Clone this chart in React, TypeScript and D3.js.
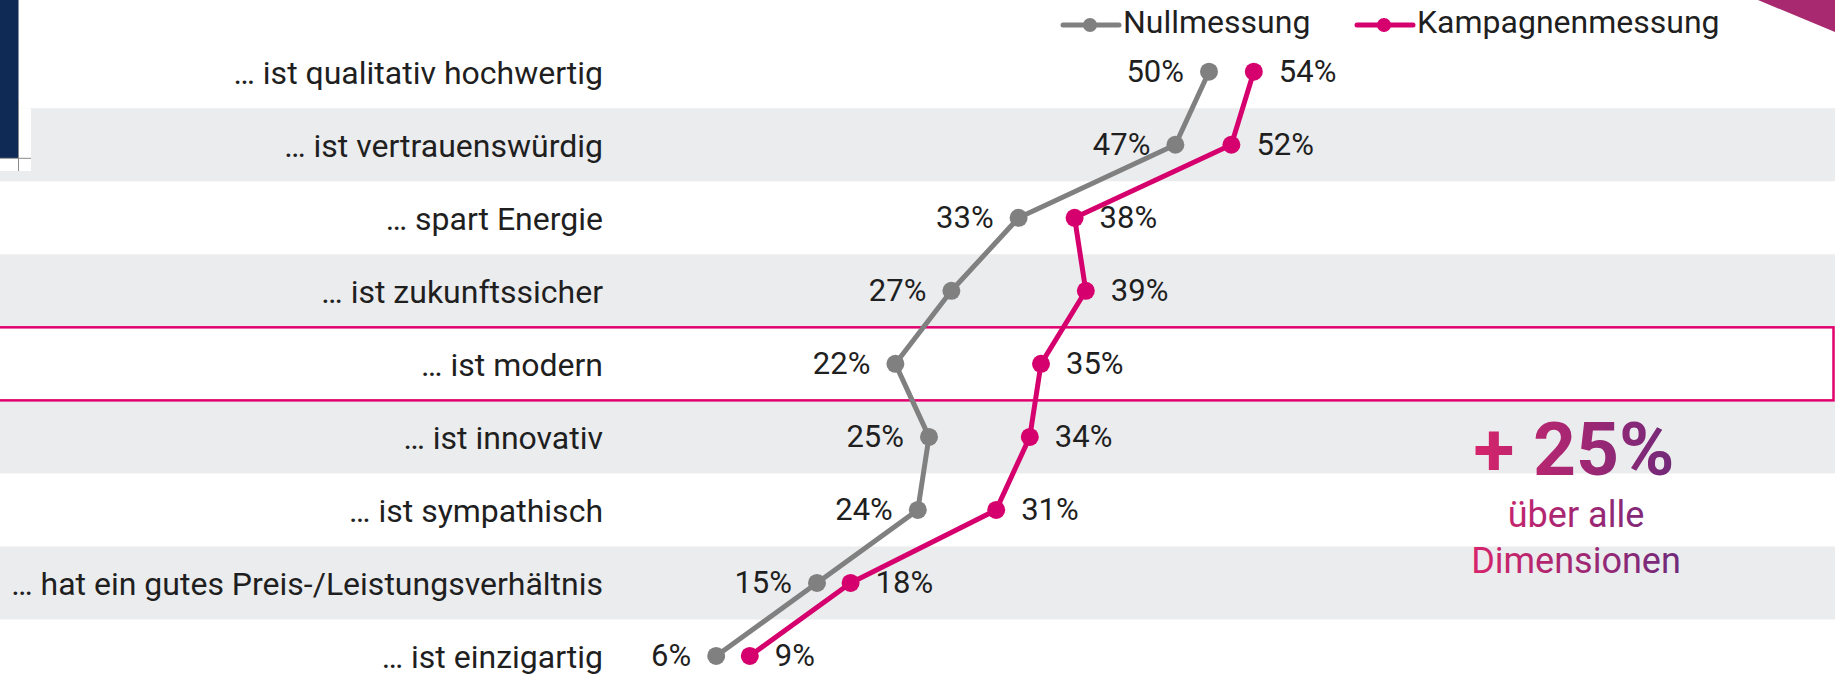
import React from "react";
import * as d3 from "d3";

// categories, top to bottom
const categories = [
  "… ist qualitativ hochwertig",
  "… ist vertrauenswürdig",
  "… spart Energie",
  "… ist zukunftssicher",
  "… ist modern",
  "… ist innovativ",
  "… ist sympathisch",
  "… hat ein gutes Preis-/Leistungsverhältnis",
  "… ist einzigartig",
];

const nullmessung = [50, 47, 33, 27, 22, 25, 24, 15, 6];
const kampagnenmessung = [54, 52, 38, 39, 35, 34, 31, 18, 9];

const seriesNames = ["Nullmessung", "Kampagnenmessung"];
const seriesColors = ["#808080", "#d5006d"];

const highlighted = "… ist modern";
const upliftText = "+ 25%";
const upliftSub = ["über alle", "Dimensionen"];

const W = 1835;
const H = 676;

const App = () => {
  const x = d3.scaleLinear().domain([0, 100]).range([649, 1769]);
  const y = d3.scaleBand().domain(categories).range([35.2, 692.5]).padding(0);
  const bw = y.bandwidth();
  const cy = (c: string) => (y(c) as number) + bw / 2;

  const line = d3
    .line<number>()
    .x((d) => x(d))
    .y((_, i) => cy(categories[i]));

  const series = [nullmessung, kampagnenmessung];
  const font = "Roboto, 'Noto Sans', sans-serif";

  return (
    <svg
      width={W}
      height={H}
      style={{ position: "absolute", left: 0, top: 0, background: "#fff" }}
      fontFamily={font}
    >
      <defs>
        <linearGradient id="uplift" gradientUnits="userSpaceOnUse" x1={1470} y1={0} x2={1690} y2={0}>
          <stop offset="0" stopColor="#d8246b" />
          <stop offset="1" stopColor="#6a2a7b" />
        </linearGradient>
      </defs>

      {/* alternating stripes */}
      {categories.map((c, i) =>
        i % 2 === 1 ? (
          <rect key={c} x={0} y={y(c)} width={W} height={bw} fill="#ebecee" />
        ) : null
      )}

      {/* highlighted row */}
      <rect
        x={-5}
        y={y(highlighted)}
        width={W + 3.5}
        height={bw}
        fill="#fff"
        stroke="#e0006e"
        strokeWidth={2.5}
      />

      {/* slide leftovers on the left edge */}
      <rect x={0} y={108.3} width={31} height={62.7} fill="#fff" />
      <rect x={0} y={0} width={18.5} height={158} fill="#0f2a55" />
      <line x1={0} x2={31} y1={158.3} y2={158.3} stroke="#8a8a8a" strokeWidth={1} />
      <line x1={18.5} x2={18.5} y1={100} y2={171} stroke="#8a8a8a" strokeWidth={1} />

      {/* top right corner */}
      <path d={`M1758,0 L${W},0 L${W},32 Z`} fill="#a8296f" />

      {/* category labels */}
      {categories.map((c) => (
        <text key={c} x={603} y={cy(c) + 12} textAnchor="end" fontSize={32} fill="#1f1f1f">
          {c}
        </text>
      ))}

      {/* lines */}
      {series.map((s, k) => (
        <path key={k} d={line(s) || ""} fill="none" stroke={seriesColors[k]} strokeWidth={5} strokeLinejoin="round" />
      ))}
      {series.map((s, k) =>
        s.map((v, i) => (
          <circle key={`${k}-${i}`} cx={x(v)} cy={cy(categories[i])} r={9} fill={seriesColors[k]} />
        ))
      )}

      {/* value labels */}
      {series.map((s, k) =>
        s.map((v, i) => (
          <text
            key={`l${k}-${i}`}
            x={k === 0 ? x(v) - 25 : x(v) + 25}
            y={cy(categories[i]) + 10.5}
            textAnchor={k === 0 ? "end" : "start"}
            fontSize={31}
            fill="#1f1f1f"
          >
            {v}%
          </text>
        ))
      )}

      {/* legend */}
      {seriesNames.map((n, k) => {
        const lx = k === 0 ? 1063 : 1357;
        return (
          <g key={n}>
            <line x1={lx} x2={lx + 56} y1={25} y2={25} stroke={seriesColors[k]} strokeWidth={5} strokeLinecap="round" />
            <circle cx={lx + 27} cy={25} r={7} fill={seriesColors[k]} />
            <text x={lx + 60} y={33} fontSize={32} fill="#1f1f1f">
              {n}
            </text>
          </g>
        );
      })}

      {/* uplift callout */}
      <text x={1574} y={475} textAnchor="middle" fontSize={75} fontWeight={700} fill="url(#uplift)">
        {upliftText}
      </text>
      {upliftSub.map((t, i) => (
        <text key={t} x={1576} y={527 + i * 45.5} textAnchor="middle" fontSize={36} fill="url(#uplift)">
          {t}
        </text>
      ))}
    </svg>
  );
};

export default App;
